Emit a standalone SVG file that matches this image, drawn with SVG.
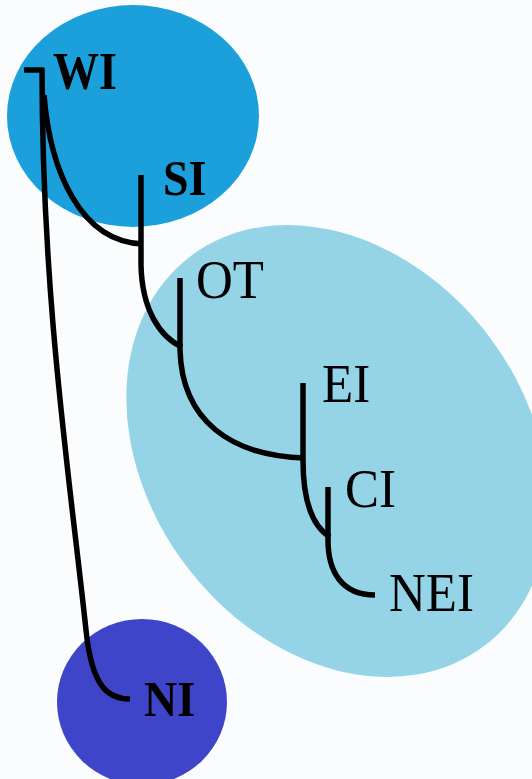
<svg xmlns="http://www.w3.org/2000/svg" width="532" height="779" viewBox="0 0 532 779">
<style>
.edge{fill:none;stroke:#000;stroke-width:5.5;stroke-linecap:butt;stroke-linejoin:round}
.lb{font-family:"Liberation Serif","Times New Roman",serif;font-size:46px;font-weight:bold;fill:#000}
.lr{font-family:"Liberation Serif","Times New Roman",serif;font-size:51px;fill:#000}
</style>
<rect width="532" height="779" fill="#fafcfe"/>
<g id="groups">
<ellipse id="g-west" cx="133" cy="116" rx="126" ry="111" fill="#1ba0dc"/>
<ellipse id="g-east" cx="337.5" cy="451" rx="244" ry="190" transform="rotate(53 337.5 451)" fill="#95d4e6"/>
<ellipse id="g-north" cx="142" cy="702" rx="85" ry="83" fill="#3f45c8"/>
</g>
<g id="connectors">
<path class="edge" d="M24,70 H44"/>
<path class="edge" d="M42,68 C42,300 70,480 86,630 C92,690 110,699 130,699"/>
<path class="edge" d="M44,95 C50,170 80,242 143,244"/>
<path class="edge" d="M141,175 V265 C142,310 160,337 182,347"/>
<path class="edge" d="M180,278 V350 C182,420 230,456 305,458"/>
<path class="edge" d="M303,383 V460 C303,500 312,526 330,537"/>
<path class="edge" d="M328,487 V540 C328,572 342,595 375,595"/>
</g>
<g id="n-WI"><text class="lb" transform="translate(53,89) scale(1,1.15)">WI</text></g>
<g id="n-SI"><text class="lb" transform="translate(163,195) scale(1,1.12)">SI</text></g>
<g id="n-OT"><text class="lr" transform="translate(196,298) scale(1,1.08)">OT</text></g>
<g id="n-EI"><text class="lr" transform="translate(322,402) scale(1,1.07)">EI</text></g>
<g id="n-CI"><text class="lr" transform="translate(345,507) scale(1,1.07)">CI</text></g>
<g id="n-NEI"><text class="lr" transform="translate(389,611) scale(1,1.08)">NEI</text></g>
<g id="n-NI"><text class="lb" transform="translate(144,716) scale(1,1.12)">NI</text></g>
</svg>
